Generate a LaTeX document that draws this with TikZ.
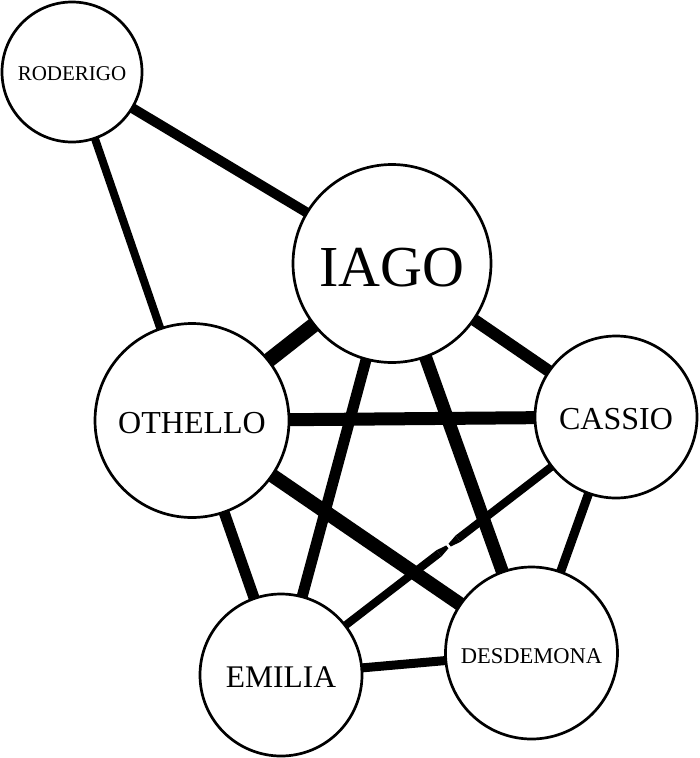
\documentclass[tikz,border=0pt]{standalone}
\usepackage{fontspec}
\setmainfont{Liberation Serif}
\usetikzlibrary{backgrounds,calc}
\tikzset{
  person/.style={circle, draw=black, fill=white, line width=2.7pt, inner sep=0pt, text=black},
  tie/.style={draw=black, line cap=butt},
}
\newcommand{\lowered}[2]{\raisebox{-#1}[\height][\depth]{#2}}
\begin{document}
\begin{tikzpicture}[x=1pt,y=-1pt]
\useasboundingbox (0,0) rectangle (700,758);
\node[person, minimum size=140pt, font=\fontsize{21}{24}\selectfont] (rod) at (72,72) {\lowered{2pt}{RODERIGO}};
\node[person, minimum size=198pt, font=\fontsize{58}{62}\selectfont] (iago) at (392,263.5) {\lowered{4pt}{IAGO}};
\node[person, minimum size=194pt, font=\fontsize{32}{36}\selectfont] (oth) at (192,420.5) {\lowered{2.5pt}{OTHELLO}};
\node[person, minimum size=162pt, font=\fontsize{32}{36}\selectfont] (cas) at (616,417) {\lowered{2pt}{CASSIO}};
\node[person, minimum size=162pt, font=\fontsize{31.5}{36}\selectfont] (emi) at (281,675) {\lowered{2pt}{EMILIA}};
\node[person, minimum size=172pt, font=\fontsize{22.5}{26}\selectfont] (des) at (531.5,653) {\lowered{3pt}{DESDEMONA}};
\coordinate (mid) at ($(cas)!0.5!(emi)$);
\coordinate (ca) at ($(mid)!12pt!(cas)$);
\coordinate (cb) at ($(mid)!1.5pt!(cas)$);
\coordinate (ea) at ($(mid)!12pt!(emi)$);
\coordinate (eb) at ($(mid)!1.5pt!(emi)$);
\begin{pgfonlayer}{background}
\draw[tie, line width=10pt] (rod.center) -- (iago.center);
\draw[tie, line width=8pt] (rod.center) -- (oth.center);
\draw[tie, line width=15pt] (iago.center) -- (oth.center);
\draw[tie, line width=12pt] (iago.center) -- (cas.center);
\draw[tie, line width=11pt] (iago.center) -- (emi.center);
\draw[tie, line width=13pt] (iago.center) -- (des.center);
\draw[tie, line width=13pt] (oth.center) -- (cas.center);
\draw[tie, line width=14pt] (oth.center) -- (des.center);
\draw[tie, line width=11pt] (oth.center) -- (emi.center);
\draw[tie, line width=8pt] (cas.center) -- (ca);
\fill[black] ($(ca)!4pt!90:(cas)$) -- ($(ca)!4pt!-90:(cas)$) -- ($(cb)!1.8pt!-90:(cas)$) -- ($(cb)!1.8pt!90:(cas)$) -- cycle;
\draw[tie, line width=8pt] (emi.center) -- (ea);
\fill[black] ($(ea)!4pt!90:(emi)$) -- ($(ea)!4pt!-90:(emi)$) -- ($(eb)!1.8pt!-90:(emi)$) -- ($(eb)!1.8pt!90:(emi)$) -- cycle;
\draw[tie, line width=9pt] (cas.center) -- (des.center);
\draw[tie, line width=9pt] (emi.center) -- (des.center);
\end{pgfonlayer}
\end{tikzpicture}
\end{document}
